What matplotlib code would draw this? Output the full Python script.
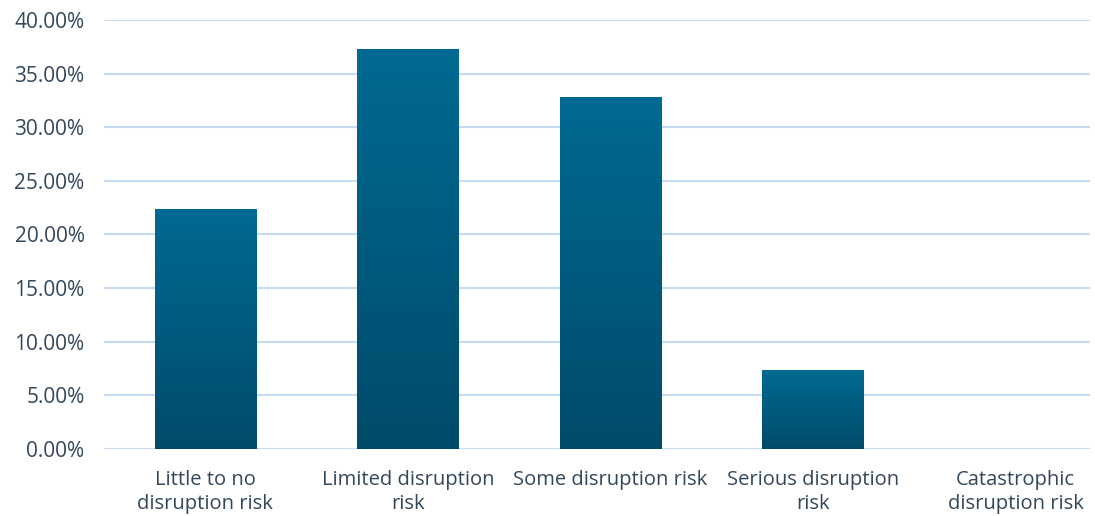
import matplotlib
matplotlib.use("Agg")
import matplotlib.pyplot as plt
import numpy as np
from matplotlib.colors import LinearSegmentedColormap
from matplotlib.ticker import FuncFormatter

categories = ["Little to no\ndisruption risk", "Limited disruption\nrisk",
              "Some disruption risk", "Serious disruption\nrisk",
              "Catastrophic\ndisruption risk"]
values = [22.39, 37.31, 32.84, 7.37, 0.0]

plt.rcParams['font.family'] = ['Open Sans', 'DejaVu Sans']
text_color = "#33475b"

fig = plt.figure(figsize=(10.95, 5.16), dpi=100)
ax = fig.add_axes([104/1095, 1 - 449/516, (1090-104)/1095, (449-20)/516])

x = np.arange(len(categories))
bars = ax.bar(x, values, width=0.5, color="none", zorder=3)

cmap = LinearSegmentedColormap.from_list("g", ["#004b6a", "#006a93"])
grad = np.linspace(0, 1, 256).reshape(-1, 1)
for b in bars:
    h = b.get_height()
    if h <= 0:
        continue
    x0 = b.get_x(); w = b.get_width()
    im = ax.imshow(grad, cmap=cmap, origin="lower", aspect="auto",
                   extent=(x0, x0 + w, 0, h), zorder=3)
    im.set_clip_path(b)

ax.set_xlim(-0.5, 4.367)
ax.set_ylim(0, 40)
ax.set_yticks(np.arange(0, 40.01, 5))
ax.yaxis.set_major_formatter(FuncFormatter(lambda v, p: f"{v:.2f}%"))
ax.set_xticks(x)
ax.set_xticklabels(categories, fontsize=14.5, color=text_color, linespacing=1.3)
ax.tick_params(axis='y', labelsize=15, labelcolor=text_color, length=0, pad=14)
ax.tick_params(axis='x', length=0, pad=15)
ax.grid(axis='y', color="#c6dbef", linewidth=1.5, zorder=0)
ax.set_axisbelow(True)
for s in ax.spines.values():
    s.set_visible(False)

fig.savefig("out.png", dpi=100)
